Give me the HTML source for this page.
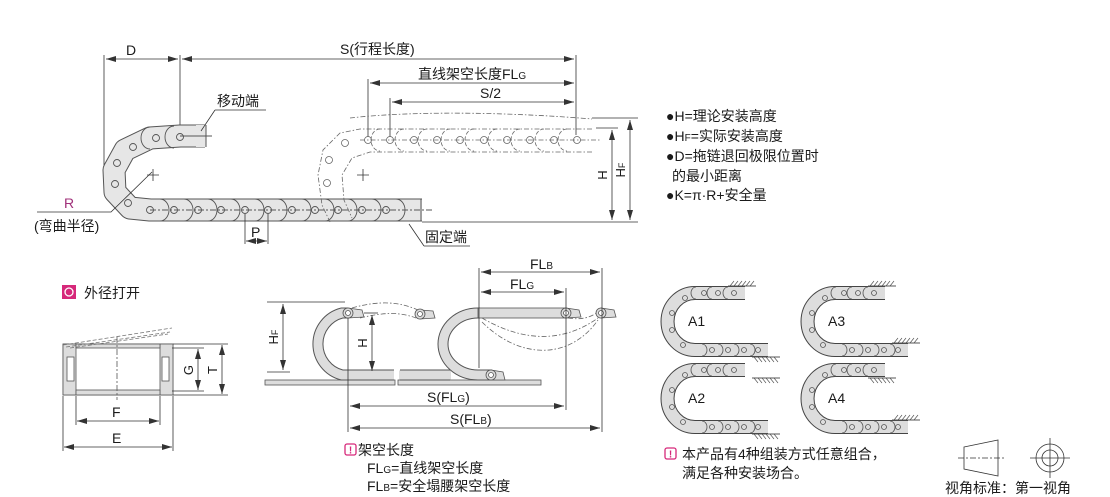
<!DOCTYPE html>
<html><head><meta charset="utf-8"><style>
html,body{margin:0;padding:0;background:#fff;width:1110px;height:497px;overflow:hidden}
svg{display:block}
text{font-family:"Liberation Sans","Noto Sans CJK SC",sans-serif;fill:#1a1a1a}
</style></head><body>
<svg width="1110" height="497" viewBox="0 0 1110 497" xmlns="http://www.w3.org/2000/svg">
<defs>
<marker id="a" viewBox="0 0 10 6" refX="10" refY="3" markerWidth="10" markerHeight="6" orient="auto-start-reverse" markerUnits="userSpaceOnUse"><path d="M0,0 L10,3 L0,6 z" fill="#333"/></marker>
<g id="mini">
 <path d="M745,293 L695,293 A27,28 0 0 0 695,350 L768,350" fill="none" stroke="#444" stroke-width="14"/>
 <path d="M745,293 L695,293 A27,28 0 0 0 695,350 L768,350" fill="none" stroke="#ddd" stroke-width="12"/>
 <g fill="none" stroke="#555" stroke-width="0.8">
 <circle cx="718" cy="293" r="2.5"/><circle cx="734" cy="293" r="2.5"/><circle cx="704" cy="293" r="2.5"/>
 <circle cx="685" cy="298" r="2.5"/><circle cx="672" cy="313" r="2.5"/><circle cx="672" cy="330" r="2.5"/><circle cx="683" cy="345" r="2.5"/>
 <circle cx="712" cy="350" r="2.5"/><circle cx="728" cy="350" r="2.5"/><circle cx="744" cy="350" r="2.5"/><circle cx="758" cy="350" r="2.5"/>
 <path d="M712,287 a5,6 0 0 0 0,12 M728,287 a5,6 0 0 0 0,12 M696,287 a5,6 0 0 0 0,12 M718,344 a5,6 0 0 1 0,12 M734,344 a5,6 0 0 1 0,12 M750,344 a5,6 0 0 1 0,12 M702,344 a5,6 0 0 1 0,12"/>
 </g>
</g>
<g id="hatch"><line x1="0" y1="0" x2="28" y2="0" stroke="#555" stroke-width="1"/><path d="M2,0 l4,-5 M6,0 l4,-5 M10,0 l4,-5 M14,0 l4,-5 M18,0 l4,-5 M22,0 l4,-5" stroke="#555" stroke-width="0.7"/></g>
</defs>

<g stroke="#333" stroke-width="0.8" fill="none">
 <line x1="104" y1="55" x2="104" y2="192"/>
 <line x1="180" y1="55" x2="180" y2="137"/>
 <line x1="576" y1="55" x2="576" y2="135"/>
 <line x1="368" y1="79" x2="368" y2="137"/>
 <line x1="390" y1="98" x2="390" y2="137"/>
 <line x1="106" y1="59" x2="178" y2="59" marker-start="url(#a)" marker-end="url(#a)"/>
 <line x1="182" y1="59" x2="574" y2="59" marker-start="url(#a)" marker-end="url(#a)"/>
 <line x1="370" y1="83" x2="574" y2="83" marker-start="url(#a)" marker-end="url(#a)"/>
 <line x1="392" y1="102" x2="574" y2="102" marker-start="url(#a)" marker-end="url(#a)"/>
</g>
<text x="126" y="55" font-size="14">D</text>
<text x="340" y="54" font-size="14">S(行程长度)</text>
<text x="418" y="79" font-size="14">直线架空长度FL<tspan font-size="10">G</tspan></text>
<text x="480" y="98" font-size="14">S/2</text>

<path d="M205,136 L180,136 L150,138 L125,150 L114,170 L115,192 L130,208 L150,210 L422,210" fill="none" stroke="#555" stroke-width="23" stroke-linejoin="round"/>
<path d="M205,136 L180,136 L150,138 L125,150 L114,170 L115,192 L130,208 L150,210 L422,210" fill="none" stroke="#e6e6e6" stroke-width="21" stroke-linejoin="round"/>
<rect x="196" y="125" width="10" height="22" fill="#e6e6e6"/>
<line x1="206" y1="125" x2="206" y2="147" stroke="#555" stroke-width="1"/>
<line x1="421" y1="199" x2="421" y2="221" stroke="#555" stroke-width="1"/>
<g fill="none" stroke="#555" stroke-width="0.9">
 <circle cx="180" cy="137" r="3.5"/><circle cx="156" cy="138" r="3.5"/><circle cx="133" cy="147" r="3.5"/>
 <circle cx="117" cy="163" r="3.5"/><circle cx="115" cy="184" r="3.5"/><circle cx="128" cy="203" r="3.5"/>
 <circle cx="150" cy="210" r="3.5"/><circle cx="174" cy="210" r="3.5"/><circle cx="198" cy="210" r="3.5"/><circle cx="221" cy="210" r="3.5"/>
 <circle cx="245" cy="210" r="3.5"/><circle cx="268" cy="210" r="3.5"/><circle cx="292" cy="210" r="3.5"/><circle cx="315" cy="210" r="3.5"/>
 <circle cx="338" cy="210" r="3.5"/><circle cx="362" cy="210" r="3.5"/><circle cx="386" cy="210" r="3.5"/>
 <path d="M174,126 a9,11 0 0 0 0,22 M150,127 a9,11 0 0 0 0,22"/>
 <path d="M160,199 a9,11 0 0 1 0,22 M184,199 a9,11 0 0 1 0,22 M208,199 a9,11 0 0 1 0,22 M231,199 a9,11 0 0 1 0,22 M255,199 a9,11 0 0 1 0,22 M278,199 a9,11 0 0 1 0,22 M302,199 a9,11 0 0 1 0,22 M325,199 a9,11 0 0 1 0,22 M348,199 a9,11 0 0 1 0,22 M372,199 a9,11 0 0 1 0,22 M396,199 a9,11 0 0 1 0,22"/>
 <line x1="150" y1="210" x2="432" y2="210" stroke-dasharray="6,2,2,2"/>
 <line x1="180" y1="136" x2="212" y2="136"/>
</g>
<path d="M147,175 h12 M153,169 v12 M357,175 h12 M363,169 v12" stroke="#333" stroke-width="0.8"/>
<g fill="none" stroke="#666" stroke-width="0.8" stroke-dasharray="5,2,1.5,2">
 <path d="M592,129 L360,129 L340,133 L323,150 L318,175 L322,205 L330,222"/>
 <path d="M592,152 L370,152 L352,158 L342,175 L344,200 L352,218"/>
 <path d="M350,118 C420,110 520,113 592,119"/>
 <line x1="360" y1="140" x2="600" y2="140"/>
</g>
<g fill="none" stroke="#666" stroke-width="0.8">
 <circle cx="368" cy="140" r="3.5"/><circle cx="390" cy="140" r="3.5"/><circle cx="414" cy="140" r="3.5"/><circle cx="437" cy="140" r="3.5"/>
 <circle cx="460" cy="140" r="3.5"/><circle cx="484" cy="140" r="3.5"/><circle cx="507" cy="140" r="3.5"/><circle cx="530" cy="140" r="3.5"/><circle cx="554" cy="140" r="3.5"/><circle cx="577" cy="140" r="3.5"/>
 <circle cx="345" cy="143" r="3.5"/><circle cx="329" cy="160" r="3.5"/><circle cx="327" cy="183" r="3.5"/>
 <path d="M380,129 a9,11 0 0 0 0,22 M404,129 a9,11 0 0 0 0,22 M427,129 a9,11 0 0 0 0,22 M450,129 a9,11 0 0 0 0,22 M474,129 a9,11 0 0 0 0,22 M497,129 a9,11 0 0 0 0,22 M520,129 a9,11 0 0 0 0,22 M544,129 a9,11 0 0 0 0,22 M567,129 a9,11 0 0 0 0,22" stroke-dasharray="4,2"/>
</g>
<g stroke="#333" stroke-width="0.8" fill="none">
 <line x1="592" y1="118" x2="638" y2="118"/>
 <line x1="596" y1="128" x2="618" y2="128"/>
 <line x1="422" y1="222" x2="638" y2="222"/>
 <line x1="612" y1="130" x2="612" y2="220" marker-start="url(#a)" marker-end="url(#a)"/>
 <line x1="630" y1="120" x2="630" y2="220" marker-start="url(#a)" marker-end="url(#a)"/>
</g>
<text transform="translate(607,175) rotate(-90)" font-size="13" text-anchor="middle">H</text>
<text transform="translate(625,170) rotate(-90)" font-size="13" text-anchor="middle">H<tspan font-size="9">F</tspan></text>
<text x="217" y="106" font-size="14">移动端</text>
<path d="M215,110 H266 M215,110 L201,131" stroke="#333" stroke-width="0.8" fill="none"/>
<text x="425" y="242" font-size="14">固定端</text>
<path d="M424,246 H470 M424,246 L409,224" stroke="#333" stroke-width="0.8" fill="none"/>
<text x="64" y="208" font-size="14" style="fill:#a0307a">R</text>
<path d="M37,212 H111 L152,172" stroke="#333" stroke-width="0.8" fill="none"/>
<text x="34" y="231" font-size="14">(弯曲半径)</text>
<g stroke="#333" stroke-width="0.8" fill="none">
 <line x1="245" y1="214" x2="245" y2="244"/><line x1="268" y1="214" x2="268" y2="244"/>
 <line x1="246" y1="241" x2="267" y2="241" marker-start="url(#a)" marker-end="url(#a)"/>
</g>
<text x="251" y="237" font-size="14">P</text>
<g font-size="14">
<text x="666" y="121">●H=理论安装高度</text>
<text x="666" y="141">●H<tspan font-size="10">F</tspan>=实际安装高度</text>
<text x="666" y="161">●D=拖链退回极限位置时</text>
<text x="672" y="181">的最小距离</text>
<text x="666" y="200">●K=π·R+安全量</text>
</g>

<rect x="62" y="285" width="14" height="14" fill="#d6287a"/>
<circle cx="69" cy="292" r="4" fill="none" stroke="#fff" stroke-width="1.3"/>
<text x="84" y="298" font-size="14">外径打开</text>
<rect x="63" y="344" width="110" height="51" fill="#fff" stroke="#555" stroke-width="0.8"/>
<rect x="63" y="344" width="13" height="51" fill="#ddd" stroke="#555" stroke-width="0.8"/>
<rect x="160" y="344" width="13" height="51" fill="#ddd" stroke="#555" stroke-width="0.8"/>
<rect x="67" y="357" width="7" height="24" fill="#fff" stroke="#555" stroke-width="0.8"/>
<rect x="162" y="357" width="7" height="24" fill="#fff" stroke="#555" stroke-width="0.8"/>
<rect x="76" y="390" width="84" height="5" fill="#ddd" stroke="#555" stroke-width="0.8"/>
<rect x="76" y="344" width="84" height="4" fill="#ddd" stroke="#555" stroke-width="0.8"/>
<path d="M63,345 L172,328 M66,347 L170,332 M70,348 L168,334" stroke="#777" stroke-width="0.8" stroke-dasharray="4,2" fill="none"/>
<line x1="117" y1="337" x2="117" y2="400" stroke="#555" stroke-width="0.8" stroke-dasharray="6,2,2,2"/>
<g stroke="#333" stroke-width="0.8" fill="none">
 <line x1="173" y1="344" x2="228" y2="344"/><line x1="173" y1="395" x2="228" y2="395"/>
 <line x1="172" y1="348" x2="204" y2="348"/><line x1="172" y1="391" x2="204" y2="391"/>
 <line x1="198" y1="349" x2="198" y2="390" marker-start="url(#a)" marker-end="url(#a)"/>
 <line x1="222" y1="345" x2="222" y2="394" marker-start="url(#a)" marker-end="url(#a)"/>
 <line x1="76" y1="396" x2="76" y2="425"/><line x1="160" y1="396" x2="160" y2="425"/>
 <line x1="63" y1="396" x2="63" y2="451"/><line x1="173" y1="396" x2="173" y2="451"/>
 <line x1="77" y1="421" x2="159" y2="421" marker-start="url(#a)" marker-end="url(#a)"/>
 <line x1="64" y1="447" x2="172" y2="447" marker-start="url(#a)" marker-end="url(#a)"/>
</g>
<text transform="translate(193,370) rotate(-90)" font-size="13" text-anchor="middle">G</text>
<text transform="translate(217,370) rotate(-90)" font-size="13" text-anchor="middle">T</text>
<text x="112" y="417" font-size="14">F</text>
<text x="112" y="443" font-size="14">E</text>

<rect x="265" y="380" width="130" height="5" fill="#ddd" stroke="#555" stroke-width="0.8"/>
<rect x="398" y="380" width="143" height="5" fill="#ddd" stroke="#555" stroke-width="0.8"/>
<path d="M348,313 L342,313 A32,32 0 0 0 342,375 L394,375" fill="none" stroke="#555" stroke-width="11"/>
<path d="M348,313 L342,313 A32,32 0 0 0 342,375 L394,375" fill="none" stroke="#ddd" stroke-width="9"/>
<path d="M348,308 L362,310 L364,317 L348,318 z" fill="#ddd" stroke="#555" stroke-width="0.8"/>
<circle cx="348" cy="313" r="5" fill="#ddd" stroke="#555" stroke-width="0.8"/><circle cx="348" cy="313" r="2.5" fill="#fff" stroke="#555" stroke-width="0.8"/>
<path d="M420,310 L433,311 L435,318 L420,319 z" fill="#ddd" stroke="#555" stroke-width="0.8"/>
<circle cx="420" cy="314" r="5" fill="#ddd" stroke="#555" stroke-width="0.8"/><circle cx="420" cy="314" r="2.5" fill="#fff" stroke="#555" stroke-width="0.8"/>
<path d="M400,375 L450,375" stroke="#555" stroke-width="11"/><path d="M399,375 L451,375" stroke="#ddd" stroke-width="9"/>
<path d="M480,313 L478,313 A35,31 0 0 0 478,375 L492,375" fill="none" stroke="#555" stroke-width="11"/>
<path d="M478,313 L478,313 A35,31 0 0 0 478,375 L492,375" fill="none" stroke="#ddd" stroke-width="9"/>
<rect x="478" y="308" width="88" height="10" fill="#ddd" stroke="#555" stroke-width="0.8"/>
<path d="M566,308 L579,310 L581,317 L566,318 z" fill="#ddd" stroke="#555" stroke-width="0.8"/>
<circle cx="566" cy="313" r="5" fill="#ddd" stroke="#555" stroke-width="0.8"/><circle cx="566" cy="313" r="2.5" fill="#fff" stroke="#555" stroke-width="0.8"/>
<path d="M491,370 L503,372 L505,380 L491,380 z" fill="#ddd" stroke="#555" stroke-width="0.8"/>
<circle cx="491" cy="375" r="5" fill="#ddd" stroke="#555" stroke-width="0.8"/><circle cx="491" cy="375" r="2.5" fill="#fff" stroke="#555" stroke-width="0.8"/>
<path d="M601,308 L614,310 L616,317 L601,318 z" fill="#ddd" stroke="#555" stroke-width="0.8"/>
<circle cx="601" cy="313" r="5" fill="#ddd" stroke="#555" stroke-width="0.8"/><circle cx="601" cy="313" r="2.5" fill="#fff" stroke="#555" stroke-width="0.8"/>
<g fill="none" stroke="#666" stroke-width="0.8" stroke-dasharray="5,2,1.5,2">
 <path d="M352,308 C380,300 400,302 418,310"/><path d="M360,318 C385,312 400,312 416,318"/>
 <path d="M482,318 C520,340 560,345 598,318"/><path d="M482,322 C520,360 570,360 598,320"/><path d="M568,318 C580,320 590,318 598,312"/>
</g>
<g stroke="#333" stroke-width="0.8" fill="none">
 <line x1="267" y1="302" x2="345" y2="302"/><line x1="267" y1="372" x2="290" y2="372"/>
 <line x1="283" y1="304" x2="283" y2="370" marker-start="url(#a)" marker-end="url(#a)"/>
 <line x1="364" y1="313" x2="378" y2="313"/>
 <line x1="372" y1="315" x2="372" y2="371" marker-start="url(#a)" marker-end="url(#a)"/>
 <line x1="348" y1="318" x2="348" y2="432"/>
 <line x1="479" y1="268" x2="479" y2="368"/>
 <line x1="566" y1="288" x2="566" y2="410"/>
 <line x1="602" y1="268" x2="602" y2="432"/>
 <line x1="481" y1="272" x2="600" y2="272" marker-start="url(#a)" marker-end="url(#a)"/>
 <line x1="481" y1="292" x2="564" y2="292" marker-start="url(#a)" marker-end="url(#a)"/>
 <line x1="350" y1="406" x2="564" y2="406" marker-start="url(#a)" marker-end="url(#a)"/>
 <line x1="350" y1="428" x2="600" y2="428" marker-start="url(#a)" marker-end="url(#a)"/>
</g>
<text transform="translate(278,337) rotate(-90)" font-size="13" text-anchor="middle">H<tspan font-size="9">F</tspan></text>
<text transform="translate(367,343) rotate(-90)" font-size="13" text-anchor="middle">H</text>
<text x="530" y="269" font-size="14">FL<tspan font-size="10">B</tspan></text>
<text x="510" y="289" font-size="14">FL<tspan font-size="10">G</tspan></text>
<text x="427" y="402" font-size="14">S(FL<tspan font-size="10">G</tspan>)</text>
<text x="450" y="424" font-size="14">S(FL<tspan font-size="10">B</tspan>)</text>
<rect x="345" y="444" width="11" height="11" rx="2" fill="none" stroke="#d6287a" stroke-width="1.3"/>
<text x="350.5" y="453.5" font-size="10" text-anchor="middle" font-weight="bold" style="fill:#d6287a">!</text>
<text x="358" y="455" font-size="14">架空长度</text>
<text x="367" y="473" font-size="14">FL<tspan font-size="10">G</tspan>=直线架空长度</text>
<text x="367" y="491" font-size="14">FL<tspan font-size="10">B</tspan>=安全塌腰架空长度</text>

<use href="#mini"/>
<use href="#mini" transform="translate(140,0)"/>
<use href="#mini" transform="translate(0,77)"/>
<use href="#mini" transform="translate(140,77)"/>
<use href="#hatch" transform="translate(728,286)"/>
<use href="#hatch" transform="translate(752,357) scale(1,-1)"/>
<use href="#hatch" transform="translate(868,286)"/>
<use href="#hatch" transform="translate(892,343)"/>
<use href="#hatch" transform="translate(752,378) scale(1,-1)"/>
<use href="#hatch" transform="translate(752,434) scale(1,-1)"/>
<use href="#hatch" transform="translate(868,378) scale(1,-1)"/>
<use href="#hatch" transform="translate(892,420)"/>
<text x="688" y="326" font-size="14">A1</text>
<text x="828" y="326" font-size="14">A3</text>
<text x="688" y="403" font-size="14">A2</text>
<text x="828" y="403" font-size="14">A4</text>
<rect x="665" y="448" width="11" height="11" rx="2" fill="none" stroke="#d6287a" stroke-width="1.3"/>
<text x="670.5" y="457.5" font-size="10" text-anchor="middle" font-weight="bold" style="fill:#d6287a">!</text>
<text x="682" y="459" font-size="14">本产品有4种组装方式任意组合，</text>
<text x="682" y="478" font-size="14">满足各种安装场合。</text>
<g stroke="#333" stroke-width="0.8" fill="none">
 <path d="M964,447 L998,440 L998,476 L964,469 z"/>
 <line x1="958" y1="458" x2="1004" y2="458" stroke-dasharray="6,2,2,2"/>
 <circle cx="1050" cy="458" r="14"/><circle cx="1050" cy="458" r="8"/>
 <line x1="1030" y1="458" x2="1070" y2="458"/><line x1="1050" y1="438" x2="1050" y2="478"/>
</g>
<text x="945" y="493" font-size="14">视角标准：第一视角</text>
</svg>
</body></html>
